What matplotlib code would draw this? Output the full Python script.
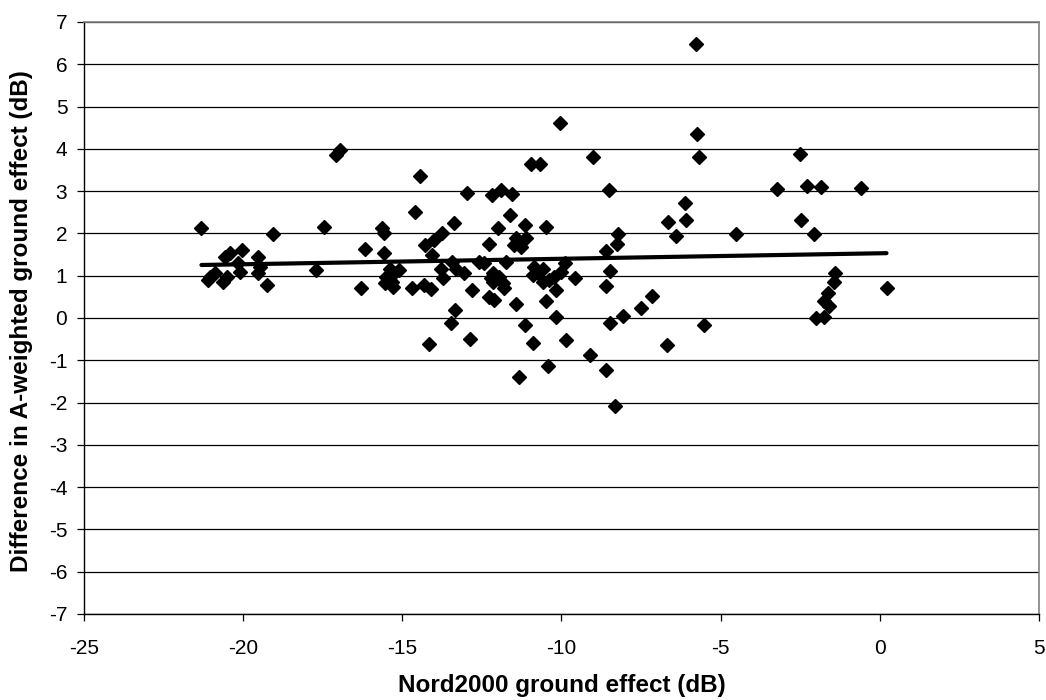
import matplotlib
matplotlib.use("Agg")
import matplotlib.pyplot as plt
import numpy as np

plt.rcParams['font.family'] = ['Liberation Sans', 'DejaVu Sans']
plt.rcParams['axes.unicode_minus'] = False

# Nord2000 ground effect (dB)
nord_ge = [
    -21.31, -21.05, -21.10, -20.90, -20.63, -20.52, -20.58, -20.42, -20.16, -20.05,
    -20.10, -19.53, -19.47, -19.53, -19.26, -19.05,
    -17.72, -17.45, -17.09, -16.95, -16.16, -16.30, -15.64, -15.58, -15.58, -15.40,
    -15.27, -15.50, -15.33, -15.55, -15.30, -15.11, -14.69, -14.60, -14.43, -14.32,
    -14.11, -14.29, -14.00, -14.06, -14.16, -13.76, -13.79, -13.72, -13.48, -13.37,
    -13.43, -13.32, -13.34, -13.06, -12.97, -12.87, -12.82, -12.59, -12.43, -12.29,
    -12.18, -12.16, -12.16, -12.27, -12.11, -12.00, -11.90, -11.96, -12.22, -11.85,
    -11.80, -11.74, -11.62, -11.56, -11.43, -11.48, -11.43, -11.35, -11.27, -11.11,
    -11.14, -11.14, -10.96, -10.90, -10.85, -10.91, -10.75, -10.66, -10.59, -10.59,
    -10.50, -10.48, -10.41, -10.38, -10.22, -10.17, -10.17, -10.06, -10.01, -9.90,
    -9.85, -9.56, -9.12, -9.01, -8.61, -8.61, -8.61, -8.51, -8.49, -8.49,
    -8.31, -8.27, -8.22, -8.07, -7.49, -7.17, -6.69, -6.66, -6.41, -6.12,
    -6.08, -5.77, -5.73, -5.69, -5.53, -4.52, -3.24, -2.51, -2.49, -2.28,
    -2.07, -1.99, -1.84, -1.75, -1.75, -1.63, -1.60, -1.44, -1.42, -0.59,
    0.21,
]

# Difference in A-weighted ground effect (dB)
diff_ge = [
    2.12, 0.98, 0.90, 1.06, 0.86, 0.98, 1.45, 1.53, 1.29, 1.61,
    1.09, 1.45, 1.21, 1.06, 0.78, 1.98,
    1.13, 2.14, 3.86, 3.97, 1.62, 0.72, 2.12, 2.02, 1.54, 1.16,
    1.06, 0.96, 0.85, 0.82, 0.74, 1.13, 0.70, 2.51, 3.35, 0.78,
    0.68, 1.72, 1.84, 1.49, -0.61, 2.02, 1.17, 0.94, -0.11, 2.24,
    1.33, 1.17, 0.20, 1.06, 2.96, -0.50, 0.66, 1.33, 1.29, 1.75,
    2.92, 1.06, 0.86, 0.50, 0.43, 2.12, 3.02, 0.98, 0.94, 0.82,
    0.70, 1.33, 2.43, 2.93, 1.88, 1.72, 0.33, -1.40, 1.68, 1.88,
    2.20, -0.17, 3.65, -0.58, 1.21, 1.02, 1.06, 3.65, 1.17, 0.86,
    2.16, 0.41, -1.13, 0.90, 0.98, 0.66, 0.03, 4.61, 1.09, 1.29,
    -0.52, 0.94, -0.87, 3.80, 1.59, 0.76, -1.23, 3.02, 1.12, -0.13,
    -2.07, 1.75, 1.98, 0.05, 0.23, 0.53, -0.65, 2.27, 1.94, 2.71,
    2.32, 6.49, 4.36, 3.81, -0.17, 1.98, 3.06, 3.87, 2.32, 3.13,
    1.98, -0.01, 3.09, 0.03, 0.39, 0.58, 0.28, 0.85, 1.07, 3.07,
    0.71,
]

# linear trendline
trend_slope = 0.013
trend_intercept = 1.53

x_ticks = [-25, -20, -15, -10, -5, 0, 5]
y_ticks = list(range(-7, 8))

fig = plt.figure(figsize=(10.46, 7.0), dpi=100)
ax = fig.add_axes([0.0803, 0.1229, 0.9130, 0.8457])

for yv in y_ticks:
    ax.axhline(yv, color='black', linewidth=0.9, zorder=1)

ax.plot(nord_ge, diff_ge, linestyle='none', marker='D', markersize=7.3,
        color='black', zorder=3)

xs = np.array([min(nord_ge), max(nord_ge)])
ax.plot(xs, trend_slope * xs + trend_intercept, color='black', linewidth=3,
        solid_capstyle='round', zorder=4)

ax.set_xlim(-25, 5)
ax.set_ylim(-7, 7)
ax.set_xticks(x_ticks)
ax.set_yticks(y_ticks)
ax.tick_params(axis='both', direction='out', length=5, width=0.9,
               labelsize=15, colors='black')
ax.tick_params(axis='x', pad=13)
ax.tick_params(axis='y', pad=7)

for side in ['top', 'right']:
    ax.spines[side].set_color('#808080')
    ax.spines[side].set_linewidth(1.2)
for side in ['left', 'bottom']:
    ax.spines[side].set_color('black')
    ax.spines[side].set_linewidth(1.0)

ax.set_xlabel('Nord2000 ground effect (dB)', fontsize=17.5, fontweight='bold')
ax.xaxis.set_label_coords(0.5, -0.101)
ax.set_ylabel('Difference in A-weighted ground effect (dB)', fontsize=17.5,
              fontweight='bold')
ax.yaxis.set_label_coords(-0.053, 0.495)

fig.savefig('out.png', dpi=100)
